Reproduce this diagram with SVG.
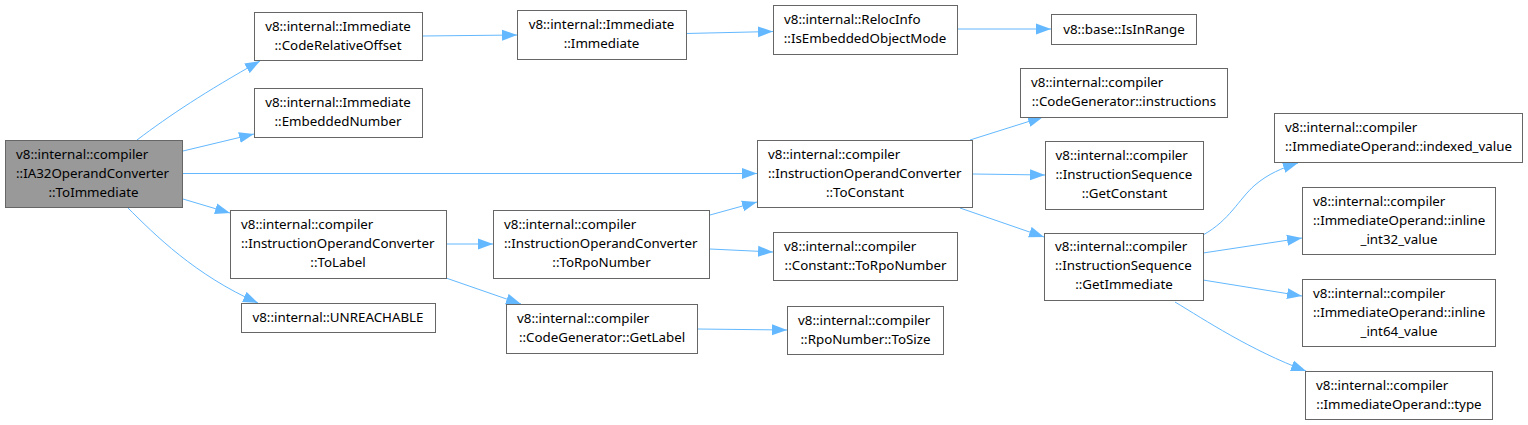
<svg xmlns="http://www.w3.org/2000/svg" width="1528" height="425" viewBox="0 0 1528 425">
<defs>
<style>
rect.n{fill:#fff;stroke:#666;stroke-width:1}
rect.r{fill:#999;stroke:#666;stroke-width:1}
text{font-family:"Noto Sans","Open Sans","DejaVu Sans",sans-serif;font-size:13.33px;fill:#000}
text.c{text-anchor:middle}
path.e{fill:none;stroke:#63b8ff;stroke-width:1}
</style>
<marker id="ah" markerUnits="userSpaceOnUse" markerWidth="16" markerHeight="12" refX="15" refY="6" orient="auto">
<path d="M0,0.5 L15,6 L0,11.5 z" fill="#63b8ff"/>
</marker>
</defs>
<rect width="1528" height="425" fill="#fff"/>
<g id="edges">
<path class="e" marker-end="url(#ah)" d="M137,140 C170,115 205,92 260,61"/>
<path class="e" marker-end="url(#ah)" d="M183,151 L254,134"/>
<path class="e" marker-end="url(#ah)" d="M183,173.5 L757,173.5"/>
<path class="e" marker-end="url(#ah)" d="M183,199 L230,213"/>
<path class="e" marker-end="url(#ah)" d="M127,207 C155,235 195,275 258,303"/>
<path class="e" marker-end="url(#ah)" d="M422,36 L517,35"/>
<path class="e" marker-end="url(#ah)" d="M686,33.5 L773,31.5"/>
<path class="e" marker-end="url(#ah)" d="M957,29 L1051,29"/>
<path class="e" marker-end="url(#ah)" d="M970,140 L1043,117"/>
<path class="e" marker-end="url(#ah)" d="M973,174 L1045,175"/>
<path class="e" marker-end="url(#ah)" d="M960,208 L1044,237"/>
<path class="e" marker-end="url(#ah)" d="M446,244 L493,244"/>
<path class="e" marker-end="url(#ah)" d="M446,278 L521,304"/>
<path class="e" marker-end="url(#ah)" d="M710,215 L757,202"/>
<path class="e" marker-end="url(#ah)" d="M710,249 L773,252"/>
<path class="e" marker-end="url(#ah)" d="M697,329 L787,330"/>
<path class="e" marker-end="url(#ah)" d="M1203,235 C1230,220 1238,200 1255,185 C1268,174 1282,168 1298,163"/>
<path class="e" marker-end="url(#ah)" d="M1203,253 L1302,238"/>
<path class="e" marker-end="url(#ah)" d="M1203,280 L1302,296"/>
<path class="e" marker-end="url(#ah)" d="M1175,302 C1205,320 1250,350 1306,371"/>
</g>
<g id="root">
<rect class="r" x="5.5" y="140.5" width="177" height="67"/>
<text x="16" y="158.5">v8::internal::compiler</text>
<text x="16" y="177.5">::IA32OperandConverter</text>
<text class="c" x="93.5" y="196.5">::ToImmediate</text>
</g>
<g id="codeRelativeOffset">
<rect class="n" x="254.5" y="12.5" width="168" height="48"/>
<text class="c" x="338" y="30.5">v8::internal::Immediate</text>
<text class="c" x="338" y="49.5">::CodeRelativeOffset</text>
</g>
<g id="embeddedNumber">
<rect class="n" x="254.5" y="88.5" width="168" height="49"/>
<text class="c" x="338" y="107">v8::internal::Immediate</text>
<text class="c" x="338" y="126">::EmbeddedNumber</text>
</g>
<g id="toLabel">
<rect class="n" x="230.5" y="210.5" width="216" height="68"/>
<text x="241" y="229">v8::internal::compiler</text>
<text x="241" y="248">::InstructionOperandConverter</text>
<text class="c" x="338" y="267">::ToLabel</text>
</g>
<g id="unreachable">
<rect class="n" x="241.5" y="303.5" width="194" height="29"/>
<text class="c" x="338" y="321.5">v8::internal::UNREACHABLE</text>
</g>
<g id="immediate">
<rect class="n" x="517.5" y="10.5" width="169" height="49"/>
<text class="c" x="601.5" y="29">v8::internal::Immediate</text>
<text class="c" x="601.5" y="48">::Immediate</text>
</g>
<g id="relocInfo">
<rect class="n" x="773.5" y="5.5" width="184" height="49"/>
<text x="784" y="24">v8::internal::RelocInfo</text>
<text class="c" x="865" y="43">::IsEmbeddedObjectMode</text>
</g>
<g id="isInRange">
<rect class="n" x="1051.5" y="14.5" width="145" height="30"/>
<text class="c" x="1124" y="33.5">v8::base::IsInRange</text>
</g>
<g id="toRpoNumber">
<rect class="n" x="493.5" y="210.5" width="216" height="68"/>
<text x="504" y="229">v8::internal::compiler</text>
<text x="504" y="248">::InstructionOperandConverter</text>
<text class="c" x="601.5" y="267">::ToRpoNumber</text>
</g>
<g id="getLabel">
<rect class="n" x="506.5" y="304.5" width="191" height="49"/>
<text x="517" y="323">v8::internal::compiler</text>
<text class="c" x="602" y="342">::CodeGenerator::GetLabel</text>
</g>
<g id="toConstant">
<rect class="n" x="757.5" y="140.5" width="215" height="67"/>
<text x="768" y="158.5">v8::internal::compiler</text>
<text x="768" y="177.5">::InstructionOperandConverter</text>
<text class="c" x="865" y="196.5">::ToConstant</text>
</g>
<g id="constantToRpoNumber">
<rect class="n" x="773.5" y="232.5" width="184" height="48"/>
<text x="784" y="250.5">v8::internal::compiler</text>
<text class="c" x="865.5" y="269.5">::Constant::ToRpoNumber</text>
</g>
<g id="rpoToSize">
<rect class="n" x="787.5" y="306.5" width="156" height="48"/>
<text x="798" y="324.5">v8::internal::compiler</text>
<text class="c" x="865.5" y="343.5">::RpoNumber::ToSize</text>
</g>
<g id="instructions">
<rect class="n" x="1020.5" y="68.5" width="207" height="49"/>
<text x="1031" y="87">v8::internal::compiler</text>
<text class="c" x="1124" y="106">::CodeGenerator::instructions</text>
</g>
<g id="getConstant">
<rect class="n" x="1045.5" y="141.5" width="158" height="68"/>
<text x="1055.5" y="160">v8::internal::compiler</text>
<text x="1055.5" y="179">::InstructionSequence</text>
<text class="c" x="1124.5" y="198">::GetConstant</text>
</g>
<g id="getImmediate">
<rect class="n" x="1044.5" y="233.5" width="159" height="67"/>
<text x="1055" y="251">v8::internal::compiler</text>
<text x="1055" y="270">::InstructionSequence</text>
<text class="c" x="1124" y="289">::GetImmediate</text>
</g>
<g id="indexedValue">
<rect class="n" x="1274.5" y="113.5" width="248" height="49"/>
<text x="1285" y="132">v8::internal::compiler</text>
<text class="c" x="1398.5" y="151">::ImmediateOperand::indexed_value</text>
</g>
<g id="inlineInt32">
<rect class="n" x="1302.5" y="187.5" width="193" height="67"/>
<text x="1313" y="205.5">v8::internal::compiler</text>
<text x="1313" y="224.5">::ImmediateOperand::inline</text>
<text class="c" x="1399" y="243.5">_int32_value</text>
</g>
<g id="inlineInt64">
<rect class="n" x="1302.5" y="279.5" width="193" height="67"/>
<text x="1313" y="297.5">v8::internal::compiler</text>
<text x="1313" y="316.5">::ImmediateOperand::inline</text>
<text class="c" x="1399" y="335.5">_int64_value</text>
</g>
<g id="type">
<rect class="n" x="1305.5" y="371.5" width="187" height="48"/>
<text x="1316" y="389.5">v8::internal::compiler</text>
<text class="c" x="1399" y="408.5">::ImmediateOperand::type</text>
</g>
</svg>
